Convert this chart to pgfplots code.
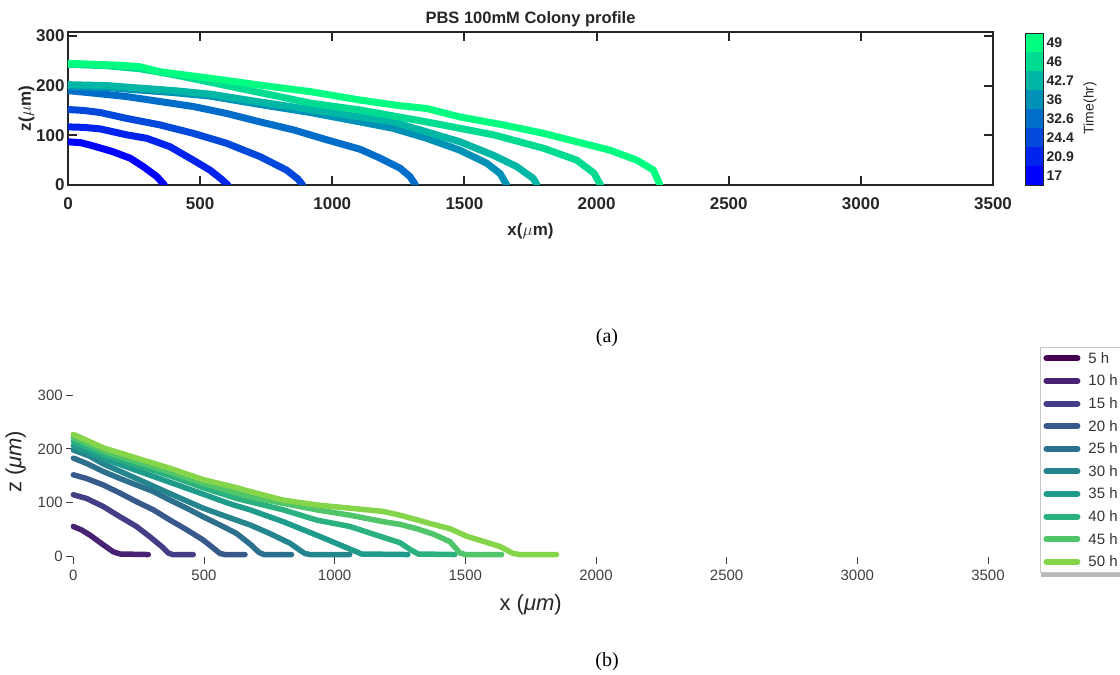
\documentclass[border=0pt]{standalone}
\usepackage{fontspec}
\setmainfont{Liberation Sans}
\newfontfamily\timesfont{Liberation Serif}
\usepackage{pgfplots}
\pgfplotsset{compat=1.18}
\definecolor{topgray}{RGB}{38,38,38}
\definecolor{w0}{RGB}{0,0,255}
\definecolor{w1}{RGB}{0,36,237}
\definecolor{w2}{RGB}{0,73,219}
\definecolor{w3}{RGB}{0,109,201}
\definecolor{w4}{RGB}{0,146,182}
\definecolor{w5}{RGB}{0,182,164}
\definecolor{w6}{RGB}{0,219,146}
\definecolor{w7}{RGB}{0,255,128}
\definecolor{v05}{HTML}{440154}
\definecolor{v10}{HTML}{482173}
\definecolor{v15}{HTML}{433E85}
\definecolor{v20}{HTML}{38598C}
\definecolor{v25}{HTML}{2D708E}
\definecolor{v30}{HTML}{25858E}
\definecolor{v35}{HTML}{1E9B8A}
\definecolor{v40}{HTML}{2BB07F}
\definecolor{v45}{HTML}{51C56A}
\definecolor{v50}{HTML}{85D54A}
\begin{document}
\begin{tikzpicture}[x=1pt,y=1pt]
% ---------------- top panel ----------------
\begin{axis}[
  at={(68pt,490pt)}, anchor=south west, scale only axis,
  width=925pt, height=153pt,
  xmin=0, xmax=3500, ymin=0, ymax=308,
  xtick={0,500,1000,1500,2000,2500,3000,3500},
  xticklabels={0,500,1000,1500,2000,2500,3000,3500},
  ytick={0,100,200,300}, yticklabels={0,100,200,300},
  /pgf/number format/assume math mode=true,
  tick align=inside, major tick length=9pt,
  axis line style={draw=topgray, line width=2pt},
  tick style={draw=topgray, line width=2pt},
  tick label style={font=\fontsize{17}{20}\selectfont\bfseries, text=topgray},
  xticklabel style={yshift=-9pt},
  title={PBS 100mM Colony profile},
  title style={font=\fontsize{16.5}{19}\selectfont\bfseries, text=topgray, yshift=-4pt},
  xlabel={x($\mu$m)},
  xlabel style={at={([yshift=-51pt]axis description cs:0.5,0)}, anchor=base,
    font=\fontsize{17}{20}\selectfont\bfseries, text=topgray},
  ylabel={z($\mu$m)},
  ylabel style={at={([xshift=-37pt]axis description cs:0,0.5)}, anchor=base,
    font=\fontsize{17}{20}\selectfont\bfseries, text=topgray},
  every axis plot/.append style={line width=7pt, line join=round, line cap=round},
]
\addplot[w0] coordinates {(0,87) (50,85) (100,78) (170,67) (235,54) (285,37) (336,17) (365,0)};
\addplot[w1] coordinates {(0,117) (60,116) (121,113) (222,101) (298,94) (386,77) (474,50) (537,30) (580,12) (605,0)};
\addplot[w2] coordinates {(0,152) (60,150) (121,146) (222,134) (348,121) (474,104) (600,84) (727,57) (827,30) (870,12) (888,0)};
\addplot[w3] coordinates {(0,190) (96,185) (222,178) (348,168) (474,158) (600,144) (727,127) (853,111) (979,91) (1105,72) (1181,54) (1256,34) (1294,17) (1315,0)};
\addplot[w4] coordinates {(0,198) (150,196) (272,191) (400,186) (537,179) (727,162) (916,146) (1105,127) (1231,114) (1357,94) (1483,70) (1584,44) (1635,23) (1660,0)};
\addplot[w5] coordinates {(0,202) (150,200) (272,195) (400,190) (537,183) (727,167) (916,152) (1105,137) (1231,127) (1357,107) (1483,87) (1609,60) (1698,37) (1761,13) (1775,0)};
\addplot[w6] coordinates {(0,243) (150,240) (272,234) (400,222) (537,207) (727,186) (916,165) (1105,151) (1357,127) (1610,101) (1799,74) (1925,50) (1990,24) (2015,0)};
\addplot[w7] coordinates {(0,245) (100,243) (200,241) (272,238) (348,228) (537,215) (727,201) (916,188) (1105,171) (1250,160) (1357,154) (1483,137) (1647,121) (1799,104) (1925,87) (2051,70) (2152,50) (2215,30) (2240,0)};
\end{axis}
% colorbar
\begin{axis}[
  at={(1025pt,490pt)}, anchor=south west, scale only axis,
  width=18pt, height=152pt,
  xmin=0, xmax=1, ymin=0, ymax=8,
  xtick=\empty,
  ytick={0.5,1.5,2.5,3.5,4.5,5.5,6.5,7.5},
  yticklabels={17,20.9,24.4,32.6,36,42.7,46,49},
  yticklabel pos=right, major tick length=0pt,
  /pgf/number format/assume math mode=true,
  axis line style={draw=topgray, line width=0.8pt},
  tick label style={font=\fontsize{14}{16}\selectfont\bfseries, text=topgray},
  axis on top,
]
\addplot[fill=w0, draw=none] coordinates {(0,0) (1,0) (1,1) (0,1)} -- cycle;
\addplot[fill=w1, draw=none] coordinates {(0,1) (1,1) (1,2) (0,2)} -- cycle;
\addplot[fill=w2, draw=none] coordinates {(0,2) (1,2) (1,3) (0,3)} -- cycle;
\addplot[fill=w3, draw=none] coordinates {(0,3) (1,3) (1,4) (0,4)} -- cycle;
\addplot[fill=w4, draw=none] coordinates {(0,4) (1,4) (1,5) (0,5)} -- cycle;
\addplot[fill=w5, draw=none] coordinates {(0,5) (1,5) (1,6) (0,6)} -- cycle;
\addplot[fill=w6, draw=none] coordinates {(0,6) (1,6) (1,7) (0,7)} -- cycle;
\addplot[fill=w7, draw=none] coordinates {(0,7) (1,7) (1,8) (0,8)} -- cycle;
\end{axis}
\node[rotate=90, font=\fontsize{14}{16}\selectfont, text=topgray] at (1090pt,567pt) {Time(hr)};
\node[anchor=base, font=\timesfont\fontsize{20}{24}\selectfont] at (607pt,332pt) {(a)};
% legend shadow (behind the legend box)
\fill[gray!55] (1041pt,97.5pt) rectangle (1130pt,325pt);
% ---------------- bottom panel ----------------
\begin{axis}[
  at={(73.3pt,118.3pt)}, anchor=south west, scale only axis,
  width=914.7pt, height=161.7pt,
  xmin=0, xmax=3500, ymin=0, ymax=300, clip=false,
  axis x line*=bottom, axis y line*=left,
  axis line style={draw=none},
  tick align=outside, major tick length=7pt,
  tick style={draw=black!75, line width=0.9pt},
  xtick={0,500,1000,1500,2000,2500,3000,3500},
  xticklabels={0,500,1000,1500,2000,2500,3000,3500},
  ytick={0,100,200,300}, yticklabels={0,100,200,300},
  /pgf/number format/assume math mode=true,
  tick label style={font=\fontsize{15}{18}\selectfont, text=black!75},
  xticklabel style={yshift=-3pt},
  xlabel={x (\textit{μm})},
  xlabel style={at={([yshift=-54pt]axis description cs:0.5,0)}, anchor=base,
    font=\fontsize{22}{26}\selectfont, text=black!85},
  ylabel={z (\textit{μm})},
  ylabel style={at={([xshift=-52pt,yshift=14pt]axis description cs:0,0.5)}, anchor=base,
    font=\fontsize{22}{26}\selectfont, text=black!85},
  every axis plot/.append style={line width=5.5pt, line join=round, line cap=round},
  legend cell align=left,
  legend image code/.code={\draw[#1, line width=6pt, line cap=round] (3pt,0pt) -- (34pt,0pt);},
  legend style={at={(1.0569,1.297)}, anchor=north west,
    draw=gray!45, line width=0.8pt, fill=white,
    font=\fontsize{15}{18}\selectfont, text=black!80,
    row sep=6.6pt, column sep=6pt, inner sep=3pt,
    nodes={text height=11pt, text depth=1pt, inner sep=2pt}},
]
\addlegendimage{v05}
\addlegendentry{5 h}
\addplot[v10] coordinates {(0,56) (30,50) (64,40) (115,22) (153,9) (179,5) (287,4)};
\addlegendentry{10 h}
\addplot[v15] coordinates {(0,115) (51,108) (115,93) (179,74) (242,56) (293,37) (338,19) (363,7) (380,4) (459,4)};
\addlegendentry{15 h}
\addplot[v20] coordinates {(0,152) (51,145) (115,133) (179,118) (242,102) (306,87) (370,68) (434,50) (497,31) (536,16) (561,6) (580,4) (657,4)};
\addlegendentry{20 h}
\addplot[v25] coordinates {(0,183) (51,173) (115,158) (179,145) (242,133) (306,121) (370,105) (434,90) (497,74) (561,59) (625,43) (680,22) (710,8) (730,4) (835,4)};
\addlegendentry{25 h}
\addplot[v30] coordinates {(0,198) (60,187) (115,172) (242,145) (370,117) (497,90) (600,72) (676,59) (752,43) (829,25) (867,12) (886,6) (905,4) (1058,4)};
\addlegendentry{30 h}
\addplot[v35] coordinates {(0,206) (115,182) (242,160) (370,138) (497,116) (600,98) (676,87) (803,65) (931,40) (1020,22) (1084,9) (1103,5) (1280,4)};
\addlegendentry{35 h}
\addplot[v40] coordinates {(0,214) (115,190) (242,170) (370,150) (497,128) (625,108) (676,102) (803,87) (931,68) (1059,56) (1122,46) (1186,36) (1250,26) (1290,13) (1320,5) (1460,4)};
\addlegendentry{40 h}
\addplot[v45] coordinates {(0,221) (115,196) (242,176) (370,157) (497,136) (625,118) (676,111) (803,99) (931,87) (1059,77) (1186,65) (1250,60) (1314,52) (1377,42) (1441,28) (1479,7) (1500,4) (1639,4)};
\addlegendentry{45 h}
\addplot[v50] coordinates {(0,227) (115,202) (242,183) (370,164) (497,143) (625,128) (676,121) (803,105) (931,96) (1059,90) (1186,84) (1250,77) (1377,60) (1441,52) (1505,38) (1632,19) (1683,6) (1709,4) (1849,4)};
\addlegendentry{50 h}
\end{axis}
\node[anchor=base, font=\timesfont\fontsize{20}{24}\selectfont] at (607pt,8pt) {(b)};
\pgfresetboundingbox
\path[use as bounding box] (0pt,0pt) rectangle (1120pt,675pt);
\end{tikzpicture}
\end{document}
